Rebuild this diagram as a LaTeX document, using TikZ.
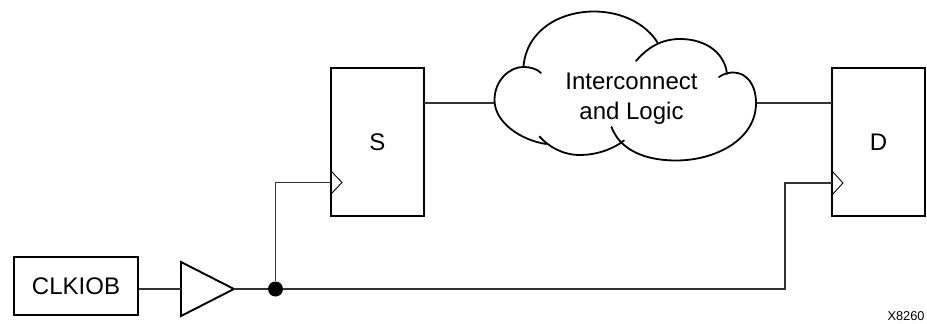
\documentclass[tikz,border=0pt]{standalone}
\usepackage{fontspec}
\usepackage{tikz}
\usetikzlibrary{shapes.geometric}
\setmainfont{Liberation Sans}
\tikzset{
    block-box/.style = {draw=black, fill=white, line width=1.9pt, rectangle, minimum width=93pt, minimum height=148pt, inner sep=0pt, font=\fontsize{24}{28}\selectfont},
    clock-mark/.style = {draw=black, line width=0.9pt},
    wire/.style = {draw=black!80, line width=1.1pt},
    cloud-line/.style = {draw=black, line width=1.8pt, line cap=round},
}

\begin{document}
\begin{tikzpicture}[x=1pt,y=-1pt]
\useasboundingbox (0,0) rectangle (927,324);
\node [block-box] (src) at (377.5,142) {S};
\node [block-box] (dst) at (878.5,142) {D};
\node [block-box, minimum width=124pt, minimum height=58pt] (iob) at (76,286) {CLKIOB};
\node [draw=black, fill=white, line width=1.9pt, isosceles triangle, isosceles triangle apex angle=54, minimum height=53pt, inner sep=0pt, outer sep=0pt, anchor=apex] (buf) at (234,289) {};
\node [fill=black, circle, minimum size=15pt, inner sep=0pt] (dot) at (275.5,289) {};
\coordinate (srcclk) at (331,182.5);
\coordinate (dstclk) at (832,183);
\coordinate (srcout) at (424,103);
\coordinate (dstin) at (832,103);
\coordinate (cloudin) at (495,103);
\coordinate (cloudout) at (756,103);
% wires
\draw [wire] (iob.east |- buf.apex) -- (buf.west |- buf.apex);
\draw [wire] (buf.apex) -- (dot);
\draw [wire] (dot) |- (srcclk);
\draw [wire] (dot) -- (785,289) |- (dstclk);
\draw [wire] (srcout) -- (cloudin);
\draw [wire] (cloudout) -- (dstin);
% clock marks
\draw [clock-mark] (331,171) -- (342,182.5) -- (331,194);
\draw [clock-mark] (832,171) -- (843,183) -- (832,195);
% cloud
\draw [cloud-line] (523.5,66) .. controls (527,30) and (560,11.5) .. (594,11.5) .. controls (622,11.5) and (646,24) .. (657.5,42.5);
\draw [cloud-line] (636,61) .. controls (648,47) and (662,39) .. (680,39) .. controls (707,39) and (725,54) .. (727,74);
\draw [cloud-line] (719,77) .. controls (724,73.5) and (729,72.5) .. (733,72.5) .. controls (747,72.5) and (756,85) .. (756,103) .. controls (756,140) and (715,160.5) .. (676,160.5) .. controls (645,160.5) and (620,150) .. (611.5,127);
\draw [cloud-line] (624,140.5) .. controls (612,150) and (595,155) .. (580,155) .. controls (563,155) and (549,147) .. (539.5,136.5);
\draw [cloud-line] (546,144) .. controls (520,140) and (494.5,122) .. (494.5,100) .. controls (494.5,80) and (510,67) .. (523,67) .. controls (531,67) and (537,69) .. (541,73);
\node [align=center, font=\fontsize{24}{29.5}\selectfont] (cloudtext) at (631.5,98.5) {Interconnect\\and Logic};
\node [font=\fontsize{12.8}{14}\selectfont] (tag) at (906,316.5) {X8260};
\end{tikzpicture}
\end{document}
